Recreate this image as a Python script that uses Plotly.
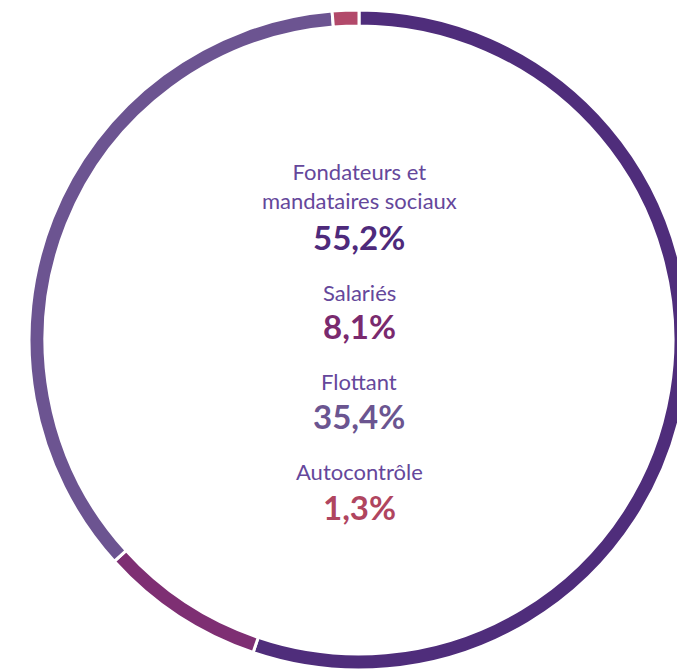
import plotly.graph_objects as go

categories = ["Fondateurs et mandataires sociaux", "Salariés", "Flottant", "Autocontrôle"]
label_lines = ["Fondateurs et<br>mandataires sociaux", "Salariés", "Flottant", "Autocontrôle"]
values = [55.2, 8.1, 35.4, 1.3]
value_labels = ["55,2%", "8,1%", "35,4%", "1,3%"]
ring_colors = ["#4F2D7B", "#7E2F73", "#6C5491", "#B2496A"]
number_colors = ["#4E2A7B", "#7A2A6E", "#6B5590", "#B0455F"]
label_color = "#65479B"

W, H = 718, 680
cx, cy, R = 359, 340, 330

fig = go.Figure()
fig.add_trace(go.Pie(
    labels=categories,
    values=values,
    sort=False,
    direction="clockwise",
    rotation=0,
    hole=314 / 330,
    marker=dict(colors=ring_colors, line=dict(color="white", width=3)),
    textinfo="none",
    hoverinfo="label+percent",
    showlegend=False,
    domain=dict(x=[(cx - R) / W, (cx + R) / W], y=[(H - cy - R) / H, (H - cy + R) / H]),
))

label_y = [186, 292, 381, 471]
num_y = [237, 326, 416, 507]
for i in range(len(categories)):
    fig.add_annotation(x=cx / W, y=1 - label_y[i] / H, xref="paper", yref="paper",
                       xanchor="center", yanchor="middle",
                       text=label_lines[i], showarrow=False,
                       font=dict(family="Lato", size=22, color=label_color))
    fig.add_annotation(x=cx / W, y=1 - num_y[i] / H, xref="paper", yref="paper",
                       xanchor="center", yanchor="middle",
                       text="<b>" + value_labels[i] + "</b>", showarrow=False,
                       font=dict(family="Lato", size=33, color=number_colors[i]))

fig.update_layout(width=W, height=H, margin=dict(l=0, r=0, t=0, b=0),
                  paper_bgcolor="white", plot_bgcolor="white")
fig.write_html("out.html", config={"displayModeBar": False},
               post_script="document.body.style.margin='0';document.body.style.overflow='hidden';")
